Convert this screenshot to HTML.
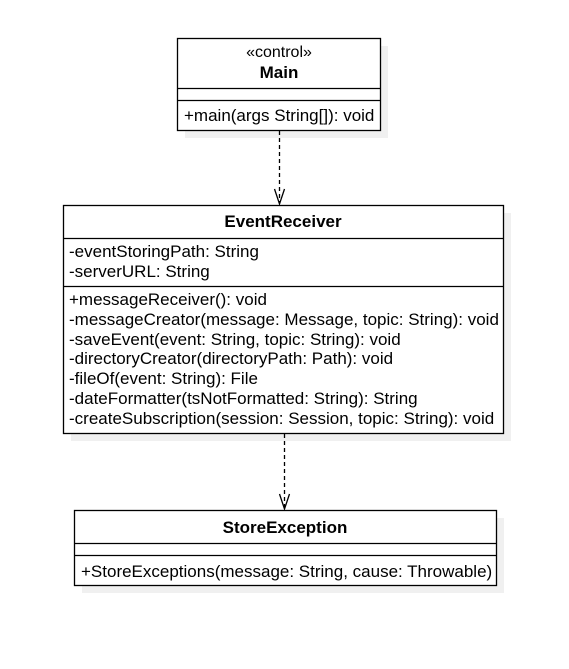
<!DOCTYPE html>
<html><head><style>body{margin:0;background:#fff}</style></head><body>
<svg width="569" height="664" xmlns="http://www.w3.org/2000/svg" font-family="Liberation Sans, sans-serif" font-size="17" fill="#000">
<g fill="#f0f0f0">
<rect x="185" y="46" width="203" height="92"/>
<rect x="71" y="213" width="440" height="228"/>
<rect x="82" y="518" width="422" height="75"/>
</g>
<g fill="#fff" stroke="#000" stroke-width="1.3">
<rect x="177.5" y="38.5" width="203" height="92"/>
<rect x="63.5" y="205.5" width="440" height="228"/>
<rect x="74.5" y="510.5" width="422" height="75"/>
</g>
<g stroke="#000" stroke-width="1.3">
<line x1="177" y1="88.5" x2="381" y2="88.5"/>
<line x1="177" y1="100.5" x2="381" y2="100.5"/>
<line x1="63" y1="238.5" x2="504" y2="238.5"/>
<line x1="63" y1="286.5" x2="504" y2="286.5"/>
<line x1="74" y1="543.5" x2="497" y2="543.5"/>
<line x1="74" y1="555.5" x2="497" y2="555.5"/>
</g>
<g stroke="#000" stroke-width="1.3" fill="none">
<line x1="279.5" y1="131" x2="279.5" y2="203" stroke-dasharray="4,3"/>
<polyline points="274.5,189 279.5,204 284.5,189"/>
<line x1="284.5" y1="434" x2="284.5" y2="508" stroke-dasharray="4,3"/>
<polyline points="279.5,494 284.5,509 289.5,494"/>
</g>
<text x="279" y="57" text-anchor="middle" font-size="16">«control»</text>
<text x="279" y="78" text-anchor="middle" font-weight="bold">Main</text>
<text x="184" y="121">+main(args String[]): void</text>
<text x="283" y="227" text-anchor="middle" font-weight="bold">EventReceiver</text>
<text x="69" y="257">-eventStoringPath: String</text>
<text x="69" y="277">-serverURL: String</text>
<text x="69" y="305">+messageReceiver(): void</text>
<text x="69" y="325">-messageCreator(message: Message, topic: String): void</text>
<text x="69" y="345">-saveEvent(event: String, topic: String): void</text>
<text x="69" y="364">-directoryCreator(directoryPath: Path): void</text>
<text x="69" y="384">-fileOf(event: String): File</text>
<text x="69" y="404">-dateFormatter(tsNotFormatted: String): String</text>
<text x="69" y="424">-createSubscription(session: Session, topic: String): void</text>
<text x="285" y="533" text-anchor="middle" font-weight="bold">StoreException</text>
<text x="81" y="577">+StoreExceptions(message: String, cause: Throwable)</text>
</svg>
</body></html>
